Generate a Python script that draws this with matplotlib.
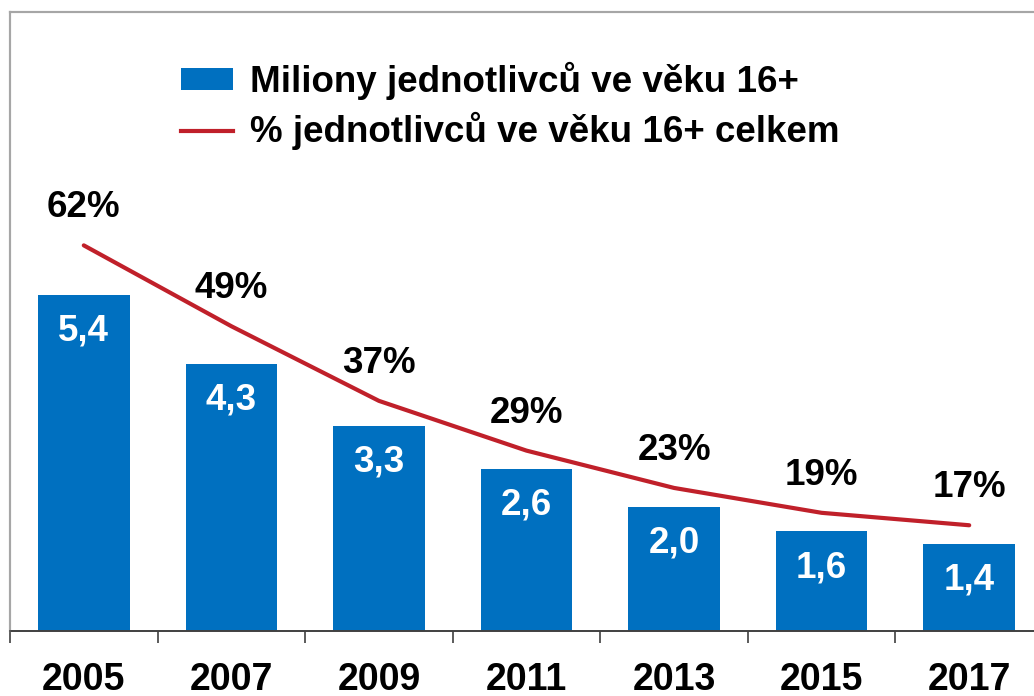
import matplotlib
matplotlib.use("Agg")
import matplotlib.pyplot as plt
from matplotlib.patches import Patch
from matplotlib.lines import Line2D
import numpy as np

plt.rcParams['font.family'] = ['Liberation Sans', 'DejaVu Sans']
plt.rcParams['font.weight'] = 'bold'

years = ["2005", "2007", "2009", "2011", "2013", "2015", "2017"]
millions = [5.4, 4.3, 3.3, 2.6, 2.0, 1.6, 1.4]
percent = [62, 49, 37, 29, 23, 19, 17]
millions_labels = ["5,4", "4,3", "3,3", "2,6", "2,0", "1,6", "1,4"]
legend_labels = ["Miliony jednotlivců ve věku 16+", "% jednotlivců ve věku 16+ celkem"]

BLUE = "#0070C0"
RED = "#C0202A"

W, H = 1034, 696
fig = plt.figure(figsize=(W / 100, H / 100), dpi=100)
left_px, top_px, bottom_px, right_px = 10, 11.5, 631, 1043
ax = fig.add_axes([left_px / W, (H - bottom_px) / H, (right_px - left_px) / W, (bottom_px - top_px) / H])
ax2 = ax.twinx()

x = np.arange(len(years))
ax.bar(x, millions, width=0.62, color=BLUE, zorder=2)
ax.set_xlim(-0.5, len(years) - 0.5)
ax.set_ylim(0, 9.96)
ax2.set_ylim(0, 99.6)

ax2.plot(x, percent, color=RED, lw=3, solid_capstyle='round', zorder=3)

for xi, v, lab in zip(x, millions, millions_labels):
    ax.annotate(lab, (xi, v), xytext=(0, -26), textcoords='offset points',
                ha='center', va='center', color='white', fontsize=26.5, fontweight='bold')
for xi, v in zip(x, percent):
    ax2.annotate(f"{v}%", (xi, v), xytext=(0, 27), textcoords='offset points',
                 ha='center', va='center', color='black', fontsize=26.5, fontweight='bold')

# axes styling
for a in (ax, ax2):
    a.spines['right'].set_visible(False)
    a.spines['top'].set_color('#A6A6A6')
    a.spines['top'].set_linewidth(1.5)
    a.spines['left'].set_color('#A6A6A6')
    a.spines['left'].set_linewidth(1.5)
    a.spines['bottom'].set_color('#404040')
    a.spines['bottom'].set_linewidth(1.2)
ax2.set_yticks([])
ax.set_yticks([])

ax.set_xticks(np.arange(-0.5, len(years) + 0.5, 1.0))
ax.set_xticklabels([])
ax.tick_params(axis='x', which='major', length=8.5, width=1.2, color='#404040', direction='out')
ax.set_xticks(x, minor=True)
ax.set_xticklabels(years, minor=True, fontsize=27, fontweight='bold')
ax.tick_params(axis='x', which='minor', length=0, pad=22)

handles = [Patch(facecolor=BLUE, edgecolor='none'),
           Line2D([0], [0], color=RED, lw=3)]
leg = ax.legend(handles, legend_labels, loc='upper left',
                bbox_to_anchor=(181 / W, (H - 62) / H), bbox_transform=fig.transFigure,
                frameon=False, fontsize=26.5, handlelength=1.41, handleheight=0.52,
                handletextpad=0.46, labelspacing=0.33, borderpad=0, borderaxespad=0)
for t in leg.get_texts():
    t.set_fontweight('bold')

fig.savefig("out.png", dpi=100)
